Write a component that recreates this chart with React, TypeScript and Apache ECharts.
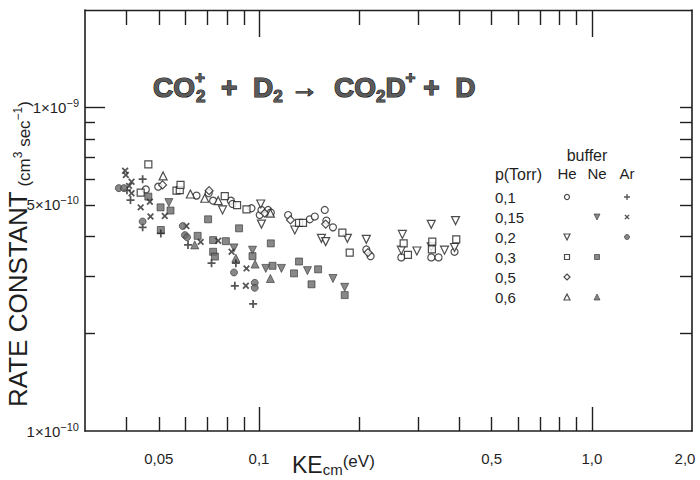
import React, { useEffect, useRef } from 'react';
import * as echarts from 'echarts';

const FONT = '"Liberation Sans", Arial, Helvetica, sans-serif';
const INK = '#1f1f1f';
const FILL = '#6a6a6a';

// axis ranges (eV and cm^3 s^-1, logarithmic)
const xRange = [0.03, 2.0];
const yRange = [1e-10, 2e-9];
const xMinorTicks = [0.04, 0.05, 0.06, 0.07, 0.08, 0.09, 0.2, 0.3, 0.4, 0.5, 0.6, 0.7, 0.8, 0.9];
const xMajorTicks = [0.1, 1.0];
const xLabelValues = [0.05, 0.1, 0.5, 1.0, 2.0];
const xLabelTexts = ['0,05', '0,1', '0,5', '1,0', '2,0'];
const yMinorTicks = [2e-10, 3e-10, 4e-10, 5e-10, 6e-10, 7e-10, 8e-10, 9e-10];
const yMajorTicks = [1e-9];
const yLabelValues = [1e-10, 5e-10, 1e-9];
const yLabelMantissas = ['1', '5', '1'];
const yLabelExponents = ['−10', '−10', '−9'];

const pressures = ['0,1', '0,15', '0,2', '0,3', '0,5', '0,6'];
const buffers = ['He', 'Ne', 'Ar'];

// data: [KE_cm (eV), rate constant in units of 1e-10 cm^3 s^-1]
const Y_UNIT = 1e-10;
const he01 = [[0.0457, 5.58], [0.0498, 5.69], [0.0649, 5.34], [0.0706, 5.43], [0.0728, 5.15], [0.0823, 5.15], [0.0832, 5.03], [0.0949, 4.88], [0.1005, 4.65], [0.1017, 4.82], [0.1065, 4.82], [0.1085, 4.73], [0.1223, 4.65], [0.1421, 4.51], [0.1471, 4.60], [0.1576, 4.82], [0.1594, 4.47], [0.1668, 4.26], [0.2101, 3.64], [0.2164, 3.47], [0.2677, 3.44], [0.3293, 3.44], [0.3463, 3.44], [0.3868, 3.58]];
const he02 = [[0.0777, 4.82], [0.1012, 5.03], [0.1017, 4.36], [0.1281, 4.18], [0.1540, 3.94], [0.1586, 3.85], [0.1843, 3.94], [0.2101, 3.91], [0.2696, 4.05], [0.2677, 3.62], [0.2981, 3.60], [0.3293, 4.35], [0.3293, 3.71], [0.3609, 3.62], [0.3895, 4.47], [0.3868, 3.69]];
const he03 = [[0.0441, 5.45], [0.0465, 6.67], [0.0565, 5.53], [0.0578, 5.55], [0.0581, 5.76], [0.0789, 5.32], [0.0859, 4.99], [0.0917, 4.84], [0.1319, 4.40], [0.1356, 4.40], [0.1780, 4.10], [0.1873, 3.56], [0.2720, 3.80], [0.2802, 3.50], [0.3307, 3.64], [0.3316, 3.85], [0.3914, 3.91]];
const he05 = [[0.0513, 5.76], [0.0708, 5.53], [0.1040, 4.71], [0.1243, 4.49], [0.1586, 4.36], [0.2125, 3.56]];
const he06 = [[0.0515, 6.14], [0.0622, 5.40], [0.0687, 5.24], [0.0754, 5.15], [0.1082, 4.71]];
const ne015 = [[0.0536, 5.08], [0.0841, 3.68], [0.0956, 3.62], [0.1048, 3.18], [0.1168, 3.18], [0.1398, 3.13], [0.1668, 2.96], [0.1809, 2.78]];
const ne03 = [[0.0465, 5.30], [0.0506, 4.91], [0.0507, 4.18], [0.0542, 4.80], [0.0654, 4.01], [0.0703, 4.51], [0.0728, 3.89], [0.0728, 3.58], [0.0737, 3.46], [0.0795, 3.86], [0.0871, 4.23], [0.0956, 3.47], [0.1085, 3.80], [0.1098, 3.24], [0.1274, 3.07], [0.1319, 3.34], [0.1438, 2.84], [0.1505, 3.16], [0.1809, 2.63]];
const ne06 = [[0.0641, 3.76], [0.0852, 3.42], [0.0973, 3.28], [0.1082, 2.96]];
const ar01 = [[0.0401, 5.55], [0.0411, 5.17], [0.0447, 6.00], [0.0447, 4.26], [0.0507, 4.08], [0.0612, 3.76], [0.0720, 3.30], [0.0846, 2.81], [0.0852, 3.30], [0.0960, 2.47]];
const ar015 = [[0.0396, 6.37], [0.0398, 6.18], [0.0407, 5.72], [0.0414, 5.89], [0.0414, 5.43], [0.0441, 4.91], [0.0470, 5.11], [0.0472, 4.60], [0.0521, 4.62], [0.0605, 4.30], [0.0668, 3.84], [0.0754, 3.87], [0.0827, 3.58], [0.0913, 2.81], [0.0917, 3.18]];
const ar02 = [[0.0379, 5.63], [0.0393, 5.63], [0.0447, 4.44], [0.0590, 4.30], [0.0599, 4.03], [0.0608, 3.97], [0.0841, 3.09], [0.0971, 2.87], [0.0971, 2.77]];

const DOWN = 'path://M0,0L10,0L5,9Z';
const UP = 'path://M5,0L10,9L0,9Z';
const PLUS = 'path://M3.9,0H6.1V3.9H10V6.1H6.1V10H3.9V6.1H0V3.9H3.9Z';

type Def = { buffer: string; p: string; symbol: string; kind: 'open' | 'filled' | 'mark'; size: number; rotate?: number; data: number[][] };
const defs: Def[] = [
  { buffer: 'He', p: '0,1', symbol: 'circle', kind: 'open', size: 7, data: he01 },
  { buffer: 'He', p: '0,2', symbol: DOWN, kind: 'open', size: 8, data: he02 },
  { buffer: 'He', p: '0,3', symbol: 'rect', kind: 'open', size: 7, data: he03 },
  { buffer: 'He', p: '0,5', symbol: 'diamond', kind: 'open', size: 8, data: he05 },
  { buffer: 'He', p: '0,6', symbol: UP, kind: 'open', size: 8, data: he06 },
  { buffer: 'Ne', p: '0,15', symbol: DOWN, kind: 'filled', size: 8, data: ne015 },
  { buffer: 'Ne', p: '0,3', symbol: 'rect', kind: 'filled', size: 7, data: ne03 },
  { buffer: 'Ne', p: '0,6', symbol: UP, kind: 'filled', size: 8, data: ne06 },
  { buffer: 'Ar', p: '0,1', symbol: PLUS, kind: 'mark', size: 8, data: ar01 },
  { buffer: 'Ar', p: '0,15', symbol: PLUS, kind: 'mark', size: 8, rotate: 45, data: ar015 },
  { buffer: 'Ar', p: '0,2', symbol: 'circle', kind: 'filled', size: 7, data: ar02 },
];

const lg = (v: number) => Math.log10(v);

const styleFor = (kind: string) => {
  if (kind === 'open') return { color: '#ffffff', borderColor: INK, borderWidth: 1.2 };
  if (kind === 'filled') return { color: FILL, borderColor: '#333', borderWidth: 0.8 };
  return { color: '#2a2a2a', borderWidth: 0 };
};

const lineStyle = { color: INK, width: 1.6 };
const tickStyle = { color: INK, width: 1.4 };

const frameAxis = (extra: any) => ({
  type: 'value',
  gridIndex: 0,
  splitLine: { show: false },
  axisLabel: { show: false },
  ...extra,
});

function buildOption(): any {
  const xMin = lg(xRange[0]);
  const xMax = lg(xRange[1]);
  const yMin = lg(yRange[0]);
  const yMax = lg(yRange[1]);
  const lastX = xLabelTexts.length - 1;

  const xAxis = [
    frameAxis({
      position: 'bottom', min: xMin, max: xMax,
      axisLine: { show: true, onZero: false, lineStyle },
      axisTick: { show: true, inside: true, length: 14, lineStyle: tickStyle, customValues: xMinorTicks.map(lg) },
      axisLabel: {
        show: true, margin: 20, fontSize: 15, fontFamily: FONT, color: INK,
        customValues: xLabelValues.map(lg),
        formatter: (v: number) => {
          const i = xLabelValues.findIndex((t) => Math.abs(lg(t) - v) < 1e-6);
          if (i < 0) return '';
          return i === lastX ? `{r|${xLabelTexts[i]}}` : xLabelTexts[i];
        },
        rich: {
          r: { fontSize: 15, fontFamily: FONT, color: INK, padding: [0, 14, 0, 0] },
        },
      },
    }),
    frameAxis({
      position: 'bottom', min: xMin, max: xMax,
      axisLine: { show: false, onZero: false },
      axisTick: { show: true, inside: true, length: 24, lineStyle: tickStyle, customValues: xMajorTicks.map(lg) },
    }),
    frameAxis({
      position: 'top', min: xMin, max: xMax,
      axisLine: { show: true, onZero: false, lineStyle: { color: INK, width: 1.3 } },
      axisTick: { show: true, inside: true, length: 15, lineStyle: tickStyle, customValues: xMinorTicks.map(lg) },
    }),
    frameAxis({
      position: 'top', min: xMin, max: xMax,
      axisLine: { show: false, onZero: false },
      axisTick: { show: true, inside: true, length: 27, lineStyle: tickStyle, customValues: xMajorTicks.map(lg) },
    }),
    {
      type: 'category', gridIndex: 1, position: 'top', data: buffers,
      axisLine: { show: false, onZero: false }, axisTick: { show: false }, splitLine: { show: false },
      axisLabel: { show: true, margin: 6, fontSize: 15, fontFamily: FONT, color: INK },
    },
  ];

  const yAxis = [
    frameAxis({
      position: 'left', min: yMin, max: yMax,
      axisLine: { show: true, onZero: false, lineStyle },
      axisTick: { show: true, inside: true, length: 10, lineStyle: tickStyle, customValues: yMinorTicks.map(lg) },
      axisLabel: {
        show: true, margin: 6, fontFamily: FONT, color: INK,
        customValues: yLabelValues.map(lg),
        formatter: (v: number) => {
          const i = yLabelValues.findIndex((t) => Math.abs(lg(t) - v) < 1e-6);
          return i < 0 ? '' : `{m|${yLabelMantissas[i]}×10}{e|${yLabelExponents[i]}}`;
        },
        rich: {
          m: { fontSize: 15, fontFamily: FONT, color: INK, lineHeight: 20 },
          e: { fontSize: 11, fontFamily: FONT, color: INK, lineHeight: 11, verticalAlign: 'top' },
        },
      },
    }),
    frameAxis({
      position: 'left', min: yMin, max: yMax,
      axisLine: { show: false, onZero: false },
      axisTick: { show: true, inside: true, length: 20, lineStyle: tickStyle, customValues: yMajorTicks.map(lg) },
    }),
    frameAxis({
      position: 'right', min: yMin, max: yMax,
      axisLine: { show: true, onZero: false, lineStyle },
      axisTick: { show: true, inside: true, length: 12, lineStyle: tickStyle, customValues: yMinorTicks.concat(yMajorTicks).map(lg) },
    }),
    {
      type: 'category', gridIndex: 1, inverse: true, data: pressures,
      axisLine: { show: false, onZero: false }, axisTick: { show: false }, splitLine: { show: false },
      axisLabel: { show: true, align: 'left', margin: 57, fontSize: 15, fontFamily: FONT, color: INK },
    },
  ];

  const series: any[] = [];
  defs.forEach((d) => {
    series.push({
      type: 'scatter',
      name: `${d.buffer} ${d.p}`,
      xAxisIndex: 0,
      yAxisIndex: 0,
      symbol: d.symbol,
      symbolSize: d.size,
      symbolRotate: d.rotate || 0,
      itemStyle: styleFor(d.kind),
      silent: true,
      data: d.data.map(([x, y]) => [lg(x), lg(y * Y_UNIT)]),
    });
    series.push({
      type: 'scatter',
      name: `legend ${d.buffer} ${d.p}`,
      xAxisIndex: 4,
      yAxisIndex: 3,
      symbol: d.symbol,
      symbolSize: Math.round(d.size * 0.75),
      symbolRotate: d.rotate || 0,
      itemStyle: styleFor(d.kind),
      silent: true,
      data: [[buffers.indexOf(d.buffer), pressures.indexOf(d.p)]],
    });
  });

  const titleRich = {
    m: { fontSize: 28, fontWeight: 'bold', fontFamily: FONT, color: '#5a5a5a', textBorderColor: '#111', textBorderWidth: 1.2, lineHeight: 36, verticalAlign: 'middle' },
    s: { fontSize: 17, fontWeight: 'bold', fontFamily: FONT, color: '#5a5a5a', textBorderColor: '#111', textBorderWidth: 1, lineHeight: 17, verticalAlign: 'bottom' },
    p: { fontSize: 17, fontWeight: 'bold', fontFamily: FONT, color: '#5a5a5a', textBorderColor: '#111', textBorderWidth: 1, lineHeight: 17, verticalAlign: 'top', width: 1 },
    q: { fontSize: 17, fontWeight: 'bold', fontFamily: FONT, color: '#5a5a5a', textBorderColor: '#111', textBorderWidth: 1, lineHeight: 17, verticalAlign: 'top' },
  };

  return {
    animation: false,
    backgroundColor: '#ffffff',
    textStyle: { fontFamily: FONT, color: INK },
    title: {
      left: 153, top: 69, padding: 0,
      text: '{m|CO}{p|+}{s|2}{m|  +  D}{s|2}{m| →  CO}{s|2}{m|D}{q|+}{m| +  D}',
      textStyle: { rich: titleRich },
    },
    grid: [
      { left: 85, top: 10, width: 607, height: 421, containLabel: false, outerBoundsMode: 'none' },
      { left: 552, top: 187, width: 90, height: 120, containLabel: false, outerBoundsMode: 'none' },
    ],
    xAxis,
    yAxis,
    series,
    graphic: [
      {
        type: 'text', x: 18, y: 407, rotation: Math.PI / 2, silent: true,
        style: {
          text: '{a|RATE CONSTANT}{b| (cm}{c|3}{b| sec}{c|−1}{b|)}',
          align: 'left', verticalAlign: 'middle', fill: INK,
          rich: {
            a: { fontSize: 26, fontFamily: FONT, fill: INK, lineHeight: 30, verticalAlign: 'middle' },
            b: { fontSize: 17, fontFamily: FONT, fill: INK, lineHeight: 17, verticalAlign: 'bottom' },
            c: { fontSize: 12, fontFamily: FONT, fill: INK, lineHeight: 12, verticalAlign: 'middle' },
          },
        },
      },
      {
        type: 'text', x: 292, y: 465, silent: true,
        style: {
          text: '{k|KE}{s|cm}{e|(eV)}',
          align: 'left', verticalAlign: 'middle', fill: INK,
          rich: {
            k: { fontSize: 23, fontFamily: FONT, fill: INK, lineHeight: 24, verticalAlign: 'middle' },
            s: { fontSize: 15, fontFamily: FONT, fill: INK, lineHeight: 15, verticalAlign: 'bottom' },
            e: { fontSize: 17, fontFamily: FONT, fill: INK, lineHeight: 17, verticalAlign: 'top' },
          },
        },
      },
      {
        type: 'text', x: 587, y: 155, silent: true,
        style: { text: 'buffer', align: 'center', verticalAlign: 'middle', fontSize: 16, fontFamily: FONT, fill: INK },
      },
      {
        type: 'text', x: 542, y: 174, silent: true,
        style: { text: 'p(Torr)', align: 'right', verticalAlign: 'middle', fontSize: 16, fontFamily: FONT, fill: INK },
      },
    ],
  };
}

export default function App() {
  const ref = useRef<HTMLDivElement>(null);
  useEffect(() => {
    document.body.style.margin = '0';
    const chart = echarts.init(ref.current as HTMLDivElement, undefined, { renderer: 'svg', width: 700, height: 480 });
    chart.setOption(buildOption());
    return () => chart.dispose();
  }, []);
  return <div ref={ref} style={{ position: 'absolute', left: 0, top: 0, width: 700, height: 480, background: '#fff' }} />;
}
